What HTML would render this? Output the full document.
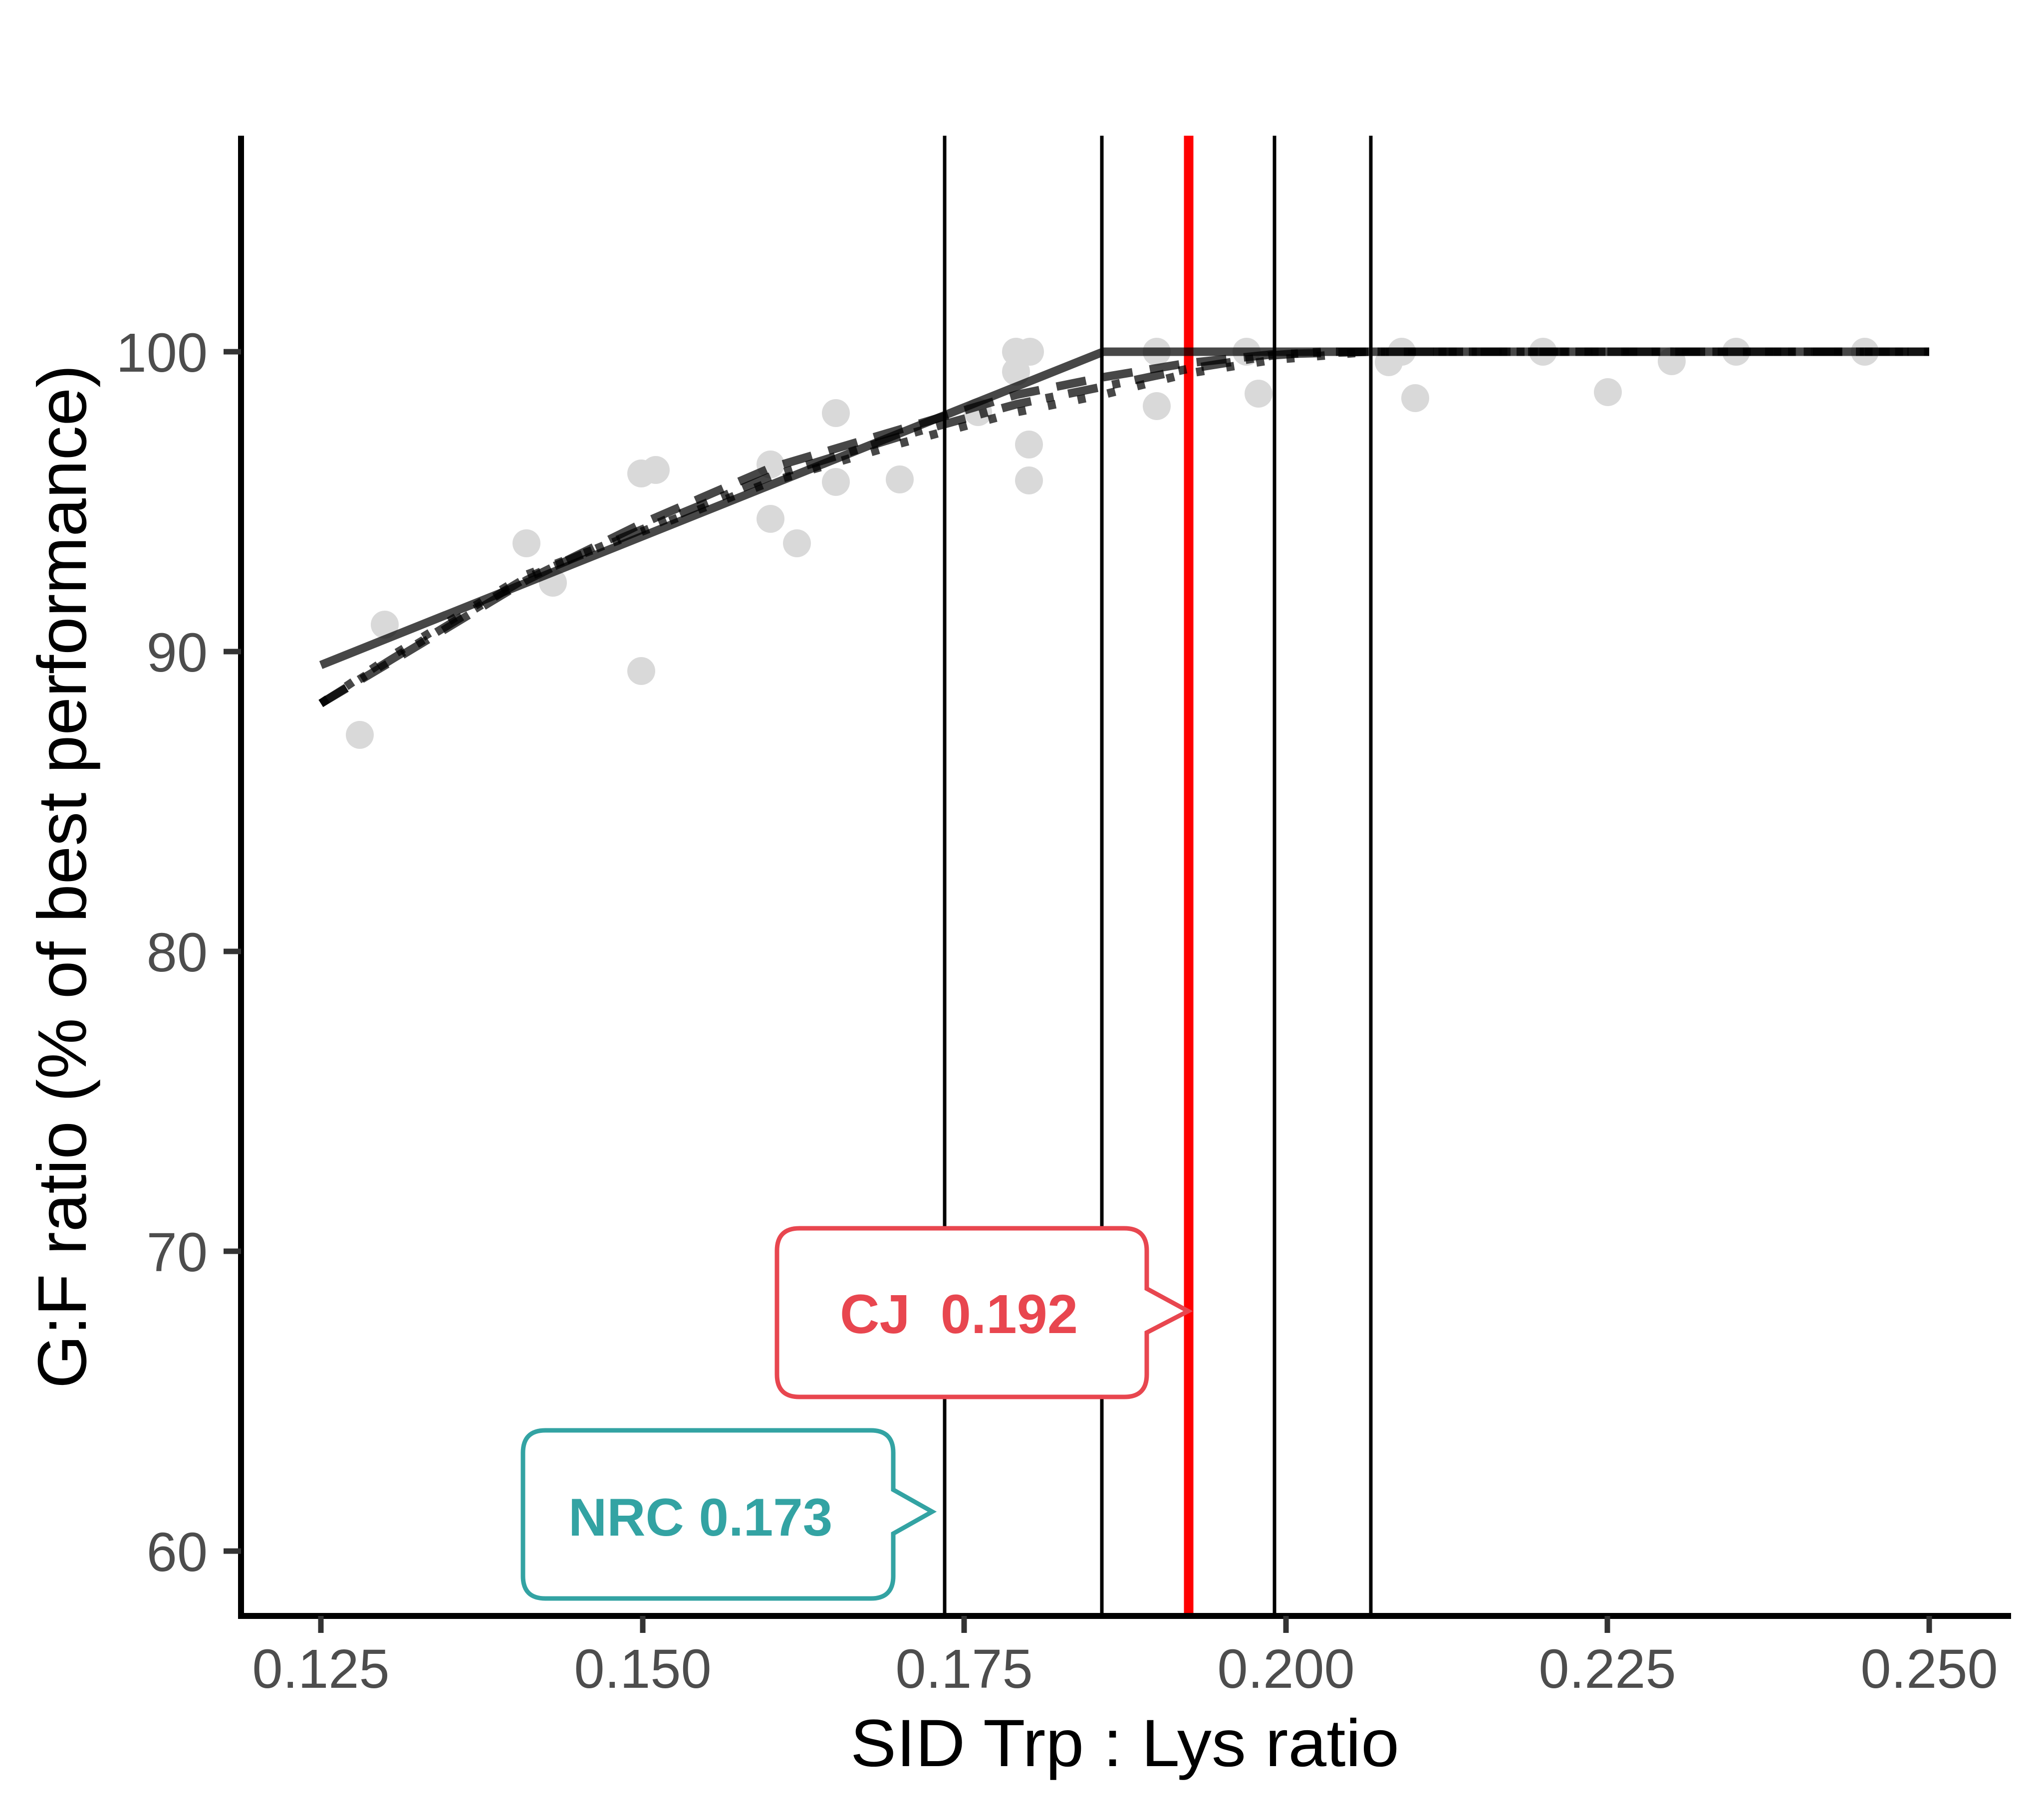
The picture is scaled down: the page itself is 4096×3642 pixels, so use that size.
<!DOCTYPE html>
<html><head><meta charset="utf-8"><style>html,body{margin:0;padding:0;background:#fff}svg{display:block}</style></head>
<body>
<svg width="4096" height="3642" viewBox="0 0 4096 3642" xmlns="http://www.w3.org/2000/svg" font-family="'Liberation Sans', Arial, sans-serif">
<rect width="4096" height="3642" fill="#fff"/>
<g stroke="#000" stroke-width="7">
<line x1="1893" y1="272" x2="1893" y2="3239"/>
<line x1="2208" y1="272" x2="2208" y2="3239"/>
<line x1="2554" y1="272" x2="2554" y2="3239"/>
<line x1="2747" y1="272" x2="2747" y2="3239"/>
</g>
<line x1="2382" y1="272" x2="2382" y2="3239" stroke="#ff0000" stroke-width="19"/>
<g fill="#d9d9d9">
<circle cx="721" cy="1473" r="28"/><circle cx="771" cy="1252" r="28"/><circle cx="1055" cy="1089" r="28"/>
<circle cx="1108" cy="1168" r="28"/><circle cx="1285" cy="1345" r="28"/><circle cx="1285" cy="949" r="28"/>
<circle cx="1314" cy="942" r="28"/><circle cx="1544" cy="931" r="28"/><circle cx="1544" cy="1040" r="28"/>
<circle cx="1597" cy="1089" r="28"/><circle cx="1675" cy="828" r="28"/><circle cx="1675" cy="966" r="28"/>
<circle cx="1803" cy="961" r="28"/><circle cx="1960" cy="826" r="28"/><circle cx="2036" cy="705" r="28"/>
<circle cx="2064" cy="705" r="28"/><circle cx="2036" cy="745" r="28"/><circle cx="2062" cy="891" r="28"/>
<circle cx="2062" cy="963" r="28"/><circle cx="2318" cy="705" r="28"/><circle cx="2318" cy="814" r="28"/>
<circle cx="2498" cy="705" r="28"/><circle cx="2522" cy="789" r="28"/><circle cx="2783" cy="726" r="28"/>
<circle cx="2809" cy="705" r="28"/><circle cx="2836" cy="798" r="28"/><circle cx="3092" cy="705" r="28"/>
<circle cx="3222" cy="786" r="28"/><circle cx="3350" cy="724" r="28"/><circle cx="3479" cy="705" r="28"/>
<circle cx="3737" cy="705" r="28"/>
</g>
<g fill="none" stroke-width="17" stroke-opacity="0.72" stroke="#000">
<polyline points="643,1333 2211,705 3866,705"/>
<polyline stroke-dasharray="60 35" points="643,1410 784,1326 1055,1163 1285,1050 1544,938 1803,861 2038,791 2211,756 2378,728 2553,710 2747,705 3866,705"/>
<polyline stroke-dasharray="60 30 16 30" points="643,1410 784,1322 1055,1158 1285,1062 1544,955 1803,875 2038,810 2211,775 2378,740 2553,712 2650,705 3866,705"/>
<polyline stroke-dasharray="16 45" points="643,1410 784,1315 1055,1152 1285,1066 1544,966 1803,889 2038,826 2211,791 2378,749 2553,721 2747,705 3866,705"/>
</g>
<line x1="483" y1="272" x2="483" y2="3245" stroke="#000" stroke-width="12"/>
<line x1="477" y1="3239" x2="4030" y2="3239" stroke="#000" stroke-width="12"/>
<g stroke="#333" stroke-width="11">
<line x1="643" y1="3239" x2="643" y2="3273"/><line x1="1288" y1="3239" x2="1288" y2="3273"/>
<line x1="1932" y1="3239" x2="1932" y2="3273"/><line x1="2577" y1="3239" x2="2577" y2="3273"/>
<line x1="3221" y1="3239" x2="3221" y2="3273"/><line x1="3866" y1="3239" x2="3866" y2="3273"/>
<line x1="448" y1="705" x2="483" y2="705"/><line x1="448" y1="1306" x2="483" y2="1306"/>
<line x1="448" y1="1907" x2="483" y2="1907"/><line x1="448" y1="2508" x2="483" y2="2508"/>
<line x1="448" y1="3109" x2="483" y2="3109"/>
</g>
<g fill="#4d4d4d" font-size="110" text-anchor="middle">
<text x="643" y="3383">0.125</text><text x="1288" y="3383">0.150</text><text x="1932" y="3383">0.175</text>
<text x="2577" y="3383">0.200</text><text x="3221" y="3383">0.225</text><text x="3866" y="3383">0.250</text>
</g>
<g fill="#4d4d4d" font-size="110" text-anchor="end">
<text x="416" y="745">100</text><text x="416" y="1346">90</text><text x="416" y="1947">80</text>
<text x="416" y="2548">70</text><text x="416" y="3149">60</text>
</g>
<text x="2254" y="3540" font-size="134" text-anchor="middle" textLength="1100" lengthAdjust="spacingAndGlyphs">SID Trp : Lys ratio</text>
<text transform="translate(172,1757) rotate(-90)" font-size="138" text-anchor="middle" textLength="2052" lengthAdjust="spacingAndGlyphs">G:F ratio (% of best performance)</text>
<path d="M1602,2462 H2253 Q2298,2462 2298,2507 V2583 L2381,2628 L2298,2671 V2755 Q2298,2800 2253,2800 H1602 Q1557,2800 1557,2755 V2507 Q1557,2462 1602,2462 Z" fill="#fff" stroke="#e8464f" stroke-width="9"/>
<text x="1683" y="2672" font-size="110" font-weight="bold" fill="#e8464f" xml:space="preserve">CJ  0.192</text>
<path d="M1093,2867 H1745 Q1790,2867 1790,2912 V2986 L1868,3030 L1790,3074 V3159 Q1790,3204 1745,3204 H1093 Q1048,3204 1048,3159 V2912 Q1048,2867 1093,2867 Z" fill="#fff" stroke="#33a3a3" stroke-width="9"/>
<text x="1139" y="3078" font-size="107" font-weight="bold" fill="#33a3a3">NRC 0.173</text>
</svg>
</body></html>
